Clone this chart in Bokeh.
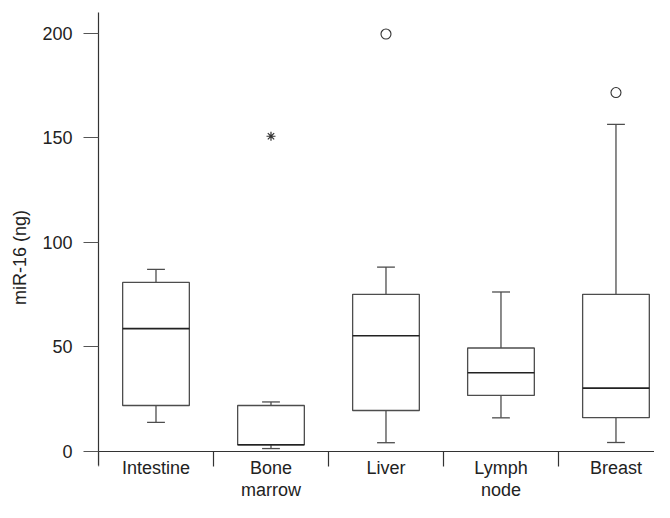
from bokeh.plotting import figure
from bokeh.models import ColumnDataSource, Range1d, FixedTicker
from bokeh.embed import file_html
from bokeh.resources import INLINE

# ---- data ----
categories = ["Intestine", "Bone\nmarrow", "Liver", "Lymph\nnode", "Breast"]
whisker_low = [13.9, 1.4, 4.2, 16.1, 4.3]
q1 = [22.0, 3.2, 19.6, 26.8, 16.2]
median = [58.8, 3.2, 55.4, 37.7, 30.3]
q3 = [80.9, 22.0, 75.2, 49.5, 75.2]
whisker_high = [87.1, 23.7, 88.2, 76.3, 156.5]
outlier_cat = [2, 4]            # indices into categories (circles)
outlier_val = [199.7, 171.7]
extreme_cat = [1]               # indices into categories (asterisks)
extreme_val = [150.8]
y_ticks = [0, 50, 100, 150, 200]

FONT = "Liberation Sans"
TXT = "#222222"
LINE = "#4d4d4d"

centers = [i + 0.5 for i in range(len(categories))]
box_w = 0.58
cap_w = 0.155

src = ColumnDataSource(dict(
    x=centers, lo=whisker_low, q1=q1, med=median, q3=q3, hi=whisker_high,
    cl=[c - cap_w / 2 for c in centers], cr=[c + cap_w / 2 for c in centers],
    bl=[c - box_w / 2 for c in centers], br=[c + box_w / 2 for c in centers],
))

Y_TOP = 210.0
Y_BOTTOM = -24.4   # room under the zero line for the category labels

p = figure(width=654, height=502, output_backend="svg", toolbar_location=None,
           x_range=Range1d(0, 4.835), y_range=Range1d(Y_BOTTOM, Y_TOP),
           min_border_left=98, min_border_right=0, min_border_top=12,
           min_border_bottom=0)
p.outline_line_color = None
p.xgrid.visible = False
p.ygrid.visible = False
p.background_fill_color = "white"
p.border_fill_color = "white"

# whiskers
p.segment(x0="x", y0="q3", x1="x", y1="hi", source=src, line_color=LINE, line_width=1.3)
p.segment(x0="x", y0="lo", x1="x", y1="q1", source=src, line_color=LINE, line_width=1.3)
p.segment(x0="cl", y0="hi", x1="cr", y1="hi", source=src, line_color=LINE, line_width=1.3)
p.segment(x0="cl", y0="lo", x1="cr", y1="lo", source=src, line_color=LINE, line_width=1.3)
# boxes
p.quad(left="bl", right="br", bottom="q1", top="q3", source=src,
       fill_color="white", line_color=LINE, line_width=1.3)
# medians
p.segment(x0="bl", y0="med", x1="br", y1="med", source=src, line_color="#222222", line_width=1.6)

# outliers
p.scatter(x=[centers[i] for i in outlier_cat], y=outlier_val, marker="circle", size=10,
          fill_color=None, line_color="#333333", line_width=1.1)
p.scatter(x=[centers[i] for i in extreme_cat], y=extreme_val, marker="asterisk", size=9,
          line_color="#333333", line_width=1.2)

# y axis
ya = p.yaxis[0]
ya.ticker = FixedTicker(ticks=y_ticks, minor_ticks=[])
ya.bounds = (-6.7, Y_TOP)
ya.axis_label = "miR-16 (ng)"
ya.axis_label_text_font = FONT
ya.axis_label_text_font_size = "18px"
ya.axis_label_text_font_style = "normal"
ya.axis_label_text_color = TXT
ya.axis_label_standoff = 9
ya.major_label_text_font = FONT
ya.major_label_text_font_size = "18px"
ya.major_label_text_color = TXT
ya.major_label_standoff = 11
ya.major_tick_out = 15
ya.major_tick_in = 0
ya.minor_tick_out = 0
ya.minor_tick_in = 0
ya.axis_line_color = "#333333"
ya.major_tick_line_color = "#555555"
ya.axis_line_width = 1.2

# x axis at y = 0: labels at category centres, separator ticks as minor ticks
xa = p.xaxis[0]
xa.fixed_location = 0
xa.ticker = FixedTicker(ticks=centers, minor_ticks=[0, 1, 2, 3, 4])
xa.major_label_overrides = {c: lab for c, lab in zip(centers, categories)}
xa.major_label_text_font = FONT
xa.major_label_text_font_size = "18px"
xa.major_label_text_color = TXT
xa.major_label_text_line_height = 1.08
xa.major_label_standoff = -8
xa.major_tick_line_color = None
xa.major_tick_out = 0
xa.major_tick_in = 0
xa.minor_tick_out = 15
xa.minor_tick_in = 0
xa.minor_tick_line_color = "#333333"
xa.minor_tick_line_width = 1.2
xa.axis_line_color = "#333333"
xa.axis_line_width = 1.2

open("out.html", "w").write(file_html(p, INLINE))
